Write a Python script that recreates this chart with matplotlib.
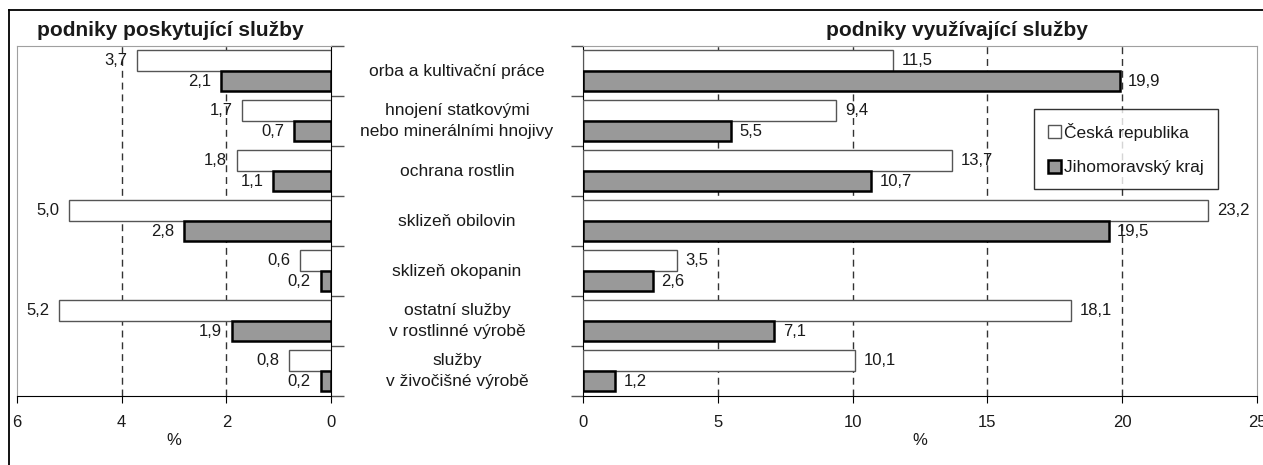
import matplotlib
matplotlib.use("Agg")
import matplotlib.pyplot as plt
import matplotlib.transforms as mtransforms
from matplotlib.lines import Line2D
import numpy as np

plt.rcParams['font.family'] = ['Liberation Sans', 'DejaVu Sans']

categories = ["orba a kultivační práce",
              "hnojení statkovými\nnebo minerálními hnojivy",
              "ochrana rostlin",
              "sklizeň obilovin",
              "sklizeň okopanin",
              "ostatní služby\nv rostlinné výrobě",
              "služby\nv živočišné výrobě"]
series = ["Česká republika", "Jihomoravský kraj"]

# podniky poskytujici sluzby
prov_cr = [3.7, 1.7, 1.8, 5.0, 0.6, 5.2, 0.8]
prov_jmk = [2.1, 0.7, 1.1, 2.8, 0.2, 1.9, 0.2]
# podniky vyuzivajici sluzby
use_cr = [11.5, 9.4, 13.7, 23.2, 3.5, 18.1, 10.1]
use_jmk = [19.9, 5.5, 10.7, 19.5, 2.6, 7.1, 1.2]

W, H = 1263, 465
fig = plt.figure(figsize=(W / 100, H / 100), dpi=100)
txt = '#1a1a1a'
gray_fill = '#999999'

axL = fig.add_axes([17 / W, 1 - 396 / H, (331 - 17) / W, 350 / H])
axR = fig.add_axes([583 / W, 1 - 396 / H, (1257 - 583) / W, 350 / H])

y = np.arange(len(categories))
bh = 0.41


def draw(ax, cr, jmk, xmax, step, left_side):
    b1 = ax.barh(y - 0.21, cr, height=bh, color='white', edgecolor='#555555', linewidth=1.0, zorder=3)
    b2 = ax.barh(y + 0.2, jmk, height=bh, color=gray_fill, edgecolor='black', linewidth=1.8, zorder=3)
    for bars, vals in ((b1, cr), (b2, jmk)):
        for rect, v in zip(bars, vals):
            yc = rect.get_y() + rect.get_height() / 2
            lab = f"{v:.1f}".replace('.', ',')
            if left_side:
                ax.annotate(lab, (v, yc), xytext=(-7, 0), textcoords='offset points',
                            ha='right', va='center', fontsize=12, color=txt)
            else:
                ax.annotate(lab, (v, yc), xytext=(6, 0), textcoords='offset points',
                            ha='left', va='center', fontsize=12, color=txt)
    ax.set_ylim(len(categories) - 0.5, -0.5)
    ticks = np.arange(0, xmax + step / 2, step)
    ax.set_xticks(ticks)
    ax.set_xticklabels([f"{t:g}" for t in ticks], fontsize=12, color=txt)
    for t in ticks[1:-1]:
        ax.axvline(t, color='#333333', linewidth=1, linestyle=(0, (5, 3.5)), zorder=1)
    ax.set_yticks(np.arange(-0.5, len(categories), 1.0))
    ax.set_yticklabels([])
    ax.tick_params(axis='x', direction='out', length=5, pad=9, color='black')
    ax.tick_params(axis='y', direction='out', length=9, color='#555555', width=1)
    ax.set_xlabel('%', fontsize=12, color=txt, labelpad=2)
    for s in ('top', 'left', 'right'):
        ax.spines[s].set_color('#a0a0a0')
    ax.spines['bottom'].set_color('black')
    if left_side:
        ax.set_xlim(xmax, 0)
        ax.yaxis.tick_right()
        ax.spines['right'].set_color('black')
    else:
        ax.set_xlim(0, xmax)
        ax.spines['left'].set_color('black')
    return b1, b2


draw(axL, prov_cr, prov_jmk, 6, 2, True)
b1, b2 = draw(axR, use_cr, use_jmk, 25, 5, False)

# category labels between panels
tr = mtransforms.blended_transform_factory(fig.transFigure, axL.transData)
for i, c in enumerate(categories):
    fig.text(457 / W, i, c, transform=tr, ha='center', va='center',
             fontsize=12.5, color=txt, linespacing=1.45)

fig.text(37 / W, 1 - 30 / H, "podniky poskytující služby", fontsize=15,
         fontweight='bold', color=txt, ha='left', va='center')
fig.text(957 / W, 1 - 30 / H, "podniky využívající služby", fontsize=15,
         fontweight='bold', color=txt, ha='center', va='center')

leg = axR.legend([b1, b2], series, loc='upper left',
                 bbox_to_anchor=(1034 / W, 1 - 109 / H), bbox_transform=fig.transFigure,
                 fontsize=12.5, frameon=True, fancybox=False, shadow=False,
                 handlelength=0.75, handleheight=0.75, handletextpad=0.2,
                 labelspacing=1.1, borderpad=0.8, borderaxespad=0)
leg.get_frame().set_edgecolor('black')
leg.get_frame().set_linewidth(1.0)
for t in leg.get_texts():
    t.set_color(txt)

# outer frame
fig.add_artist(Line2D([9 / W, 1], [1 - 10 / H, 1 - 10 / H], color='black', linewidth=1.3,
                      transform=fig.transFigure))
fig.add_artist(Line2D([9 / W, 9 / W], [0, 1 - 10 / H], color='black', linewidth=1.3,
                      transform=fig.transFigure))

fig.savefig('out.png', dpi=100)
